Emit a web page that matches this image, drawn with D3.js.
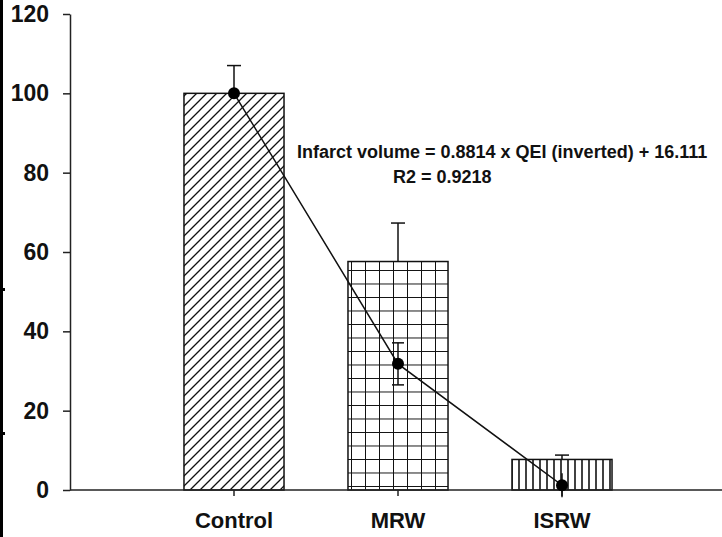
<!DOCTYPE html>
<html lang="en">
<head>
    <meta charset="UTF-8">
    <title>Infarct volume</title>
    <script src="https://cdn.jsdelivr.net/npm/d3@7"></script>
    <style>
        body { margin: 0; background: #fff; }
        svg { display: block; }
        text { font-family: Arial, "Liberation Sans", sans-serif; font-weight: bold; fill: #111; }
    </style>
</head>
<body>
<div id="chart"></div>
<script>
    // data
    var categories = ["Control", "MRW", "ISRW"];
    var infarct = [100, 57.6, 7.7];       // bars
    var infarctErr = [7, 9.7, 1.1];       // upper error only
    var qei = [100, 31.8, 1.2];           // dots + line
    var qeiErr = [0, 5.3, 3];
    var patterns = ["diag", "grid", "vert"];
    var yTicks = [0, 20, 40, 60, 80, 100, 120];
    var eqLine1 = "Infarct volume = 0.8814 x QEI (inverted) + 16.111";
    var eqLine2 = "R2 = 0.9218";

    var width = 722, height = 537;
    var svg = d3.select("#chart").append("svg").attr("width", width).attr("height", height);

    // hatch patterns
    var defs = svg.append("defs");
    var p1 = defs.append("pattern").attr("id", "diag").attr("patternUnits", "userSpaceOnUse")
        .attr("width", 10).attr("height", 10);
    p1.append("rect").attr("width", 10).attr("height", 10).attr("fill", "#fff");
    p1.append("path").attr("d", "M0,10 L10,0 M-3,3 L3,-3 M7,13 L13,7")
        .attr("stroke", "#111").attr("stroke-width", 1.3);

    var p2 = defs.append("pattern").attr("id", "grid").attr("patternUnits", "userSpaceOnUse")
        .attr("width", 14).attr("height", 13.5).attr("x", 1).attr("y", 0);
    p2.append("rect").attr("width", 14).attr("height", 13.5).attr("fill", "#fff");
    p2.append("path").attr("d", "M0,0 V13.5 M0,0 H14")
        .attr("stroke", "#111").attr("stroke-width", 2);

    var p3 = defs.append("pattern").attr("id", "vert").attr("patternUnits", "userSpaceOnUse")
        .attr("width", 7).attr("height", 10).attr("x", 0);
    p3.append("rect").attr("width", 7).attr("height", 10).attr("fill", "#fff");
    p3.append("path").attr("d", "M1,0 V10").attr("stroke", "#111").attr("stroke-width", 1.6);

    // scales
    var x = d3.scaleBand().domain(categories).range([70, 726]).paddingInner(0.39).paddingOuter(0.695);
    var y = d3.scaleLinear().domain([0, 120]).range([490, 14]);
    var cx = function (d, i) { return x(categories[i]) + x.bandwidth() / 2; };

    // bars
    svg.selectAll("rect.bar").data(infarct).enter().append("rect")
        .attr("class", "bar")
        .attr("x", function (d, i) { return x(categories[i]); })
        .attr("width", x.bandwidth())
        .attr("y", function (d) { return y(d); })
        .attr("height", function (d) { return y(0) - y(d); })
        .attr("fill", function (d, i) { return "url(#" + patterns[i] + ")"; })
        .attr("stroke", "#111").attr("stroke-width", 1.5);

    // bar error bars (upper)
    var eb = svg.append("g").attr("stroke", "#111").attr("stroke-width", 1.5);
    infarct.forEach(function (d, i) {
        eb.append("line").attr("x1", cx(d, i)).attr("x2", cx(d, i))
            .attr("y1", y(d)).attr("y2", y(d + infarctErr[i]));
        eb.append("line").attr("x1", cx(d, i) - 7).attr("x2", cx(d, i) + 7)
            .attr("y1", y(d + infarctErr[i])).attr("y2", y(d + infarctErr[i]));
    });

    // axes
    var xAxis = d3.axisBottom(x).tickSize(6).tickSizeOuter(0).tickPadding(16);
    var gx = svg.append("g").attr("transform", "translate(0," + y(0) + ")").call(xAxis);
    gx.select(".domain").attr("d", "M70,0H722");
    gx.selectAll("text").attr("font-size", 22).attr("fill", "#111");

    var yAxis = d3.axisLeft(y).tickValues(yTicks).tickSize(7).tickSizeOuter(0).tickPadding(14);
    var gy = svg.append("g").attr("transform", "translate(70,0)").call(yAxis);
    gy.selectAll("text").attr("font-size", 23).attr("fill", "#111");
    svg.selectAll(".domain, .tick line").attr("stroke", "#222").attr("stroke-width", 1.5);

    // QEI error bars (both ways)
    var qb = svg.append("g").attr("stroke", "#111").attr("stroke-width", 1.5);
    qei.forEach(function (d, i) {
        if (!qeiErr[i]) return;
        var lo = y(d - qeiErr[i]), hi = y(d + qeiErr[i]);
        qb.append("line").attr("x1", cx(d, i)).attr("x2", cx(d, i)).attr("y1", lo).attr("y2", hi);
        if (i < 2) {
            [lo, hi].forEach(function (yy) {
                qb.append("line").attr("x1", cx(d, i) - 6).attr("x2", cx(d, i) + 6)
                    .attr("y1", yy).attr("y2", yy);
            });
        }
    });

    // QEI line and dots
    var line = d3.line().x(function (d, i) { return cx(d, i); }).y(function (d) { return y(d); });
    svg.append("path").datum(qei).attr("d", line)
        .attr("fill", "none").attr("stroke", "#111").attr("stroke-width", 1.5);
    svg.selectAll("circle.dot").data(qei).enter().append("circle")
        .attr("class", "dot")
        .attr("cx", cx).attr("cy", function (d) { return y(d); })
        .attr("r", 6).attr("fill", "#000");

    // equation text
    svg.append("text").attr("x", 297).attr("y", 158).attr("font-size", 18).text(eqLine1);
    svg.append("text").attr("x", 393).attr("y", 183).attr("font-size", 18).text(eqLine2);

    // dark edge on the left of the scan
    svg.append("rect").attr("x", 0).attr("y", 0).attr("width", 3).attr("height", height).attr("fill", "#000");
    svg.append("rect").attr("x", 3).attr("y", 288).attr("width", 2).attr("height", 3).attr("fill", "#000");
    svg.append("rect").attr("x", 3).attr("y", 432).attr("width", 2).attr("height", 3).attr("fill", "#000");
</script>
</body>
</html>
